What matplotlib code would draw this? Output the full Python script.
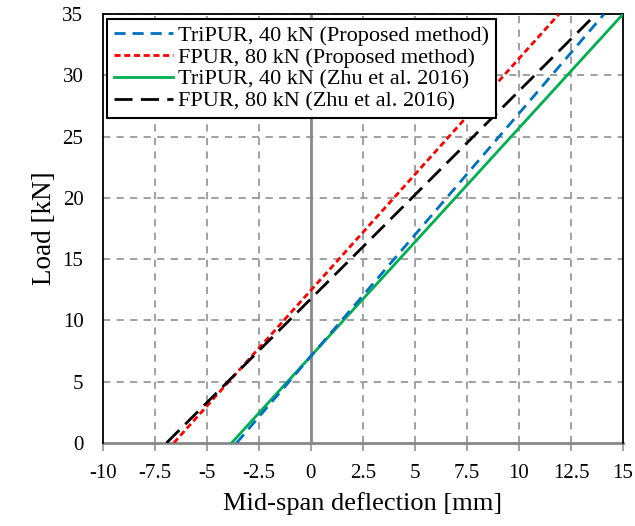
import numpy as np
import matplotlib.pyplot as plt

# Load-deflection lines (mid-span deflection in mm, load in kN)
tripur_prop_x = [-3.57, 14.09]
tripur_prop_y = [0, 35]
fpur_prop_x = [-6.59, 11.92]
fpur_prop_y = [0, 35]
tripur_zhu_x = [-3.81, 15.0]
tripur_zhu_y = [0, 35]
fpur_zhu_x = [-6.94, 13.70]
fpur_zhu_y = [0, 35]

x_ticks = [-10, -7.5, -5, -2.5, 0, 2.5, 5, 7.5, 10, 12.5, 15]
x_tick_labels = ["-10", "-7.5", "-5", "-2.5", "0", "2.5", "5", "7.5", "10", "12.5", "15"]
y_ticks = [0, 5, 10, 15, 20, 25, 30, 35]

plt.rcParams["font.family"] = ["Liberation Serif", "DejaVu Serif"]

fig = plt.figure(figsize=(6.35, 5.26), dpi=100)
ax = fig.add_axes([0.162, 0.158, 0.819, 0.815])

grid_c = "#999999"
# dashed grid
for xv in x_ticks[1:-1]:
    if xv != 0:
        ax.axvline(xv, color=grid_c, lw=1.3, ls=(0, (4, 3.5)), zorder=1)
for yv in y_ticks[1:]:
    ax.axhline(yv, color=grid_c, lw=1.3, ls=(0, (4, 3.5)), zorder=1)
# axes through the origin
ax.axvline(0, color="#888888", lw=2.0, zorder=2)
ax.axhline(0, color="#888888", lw=2.0, zorder=2, clip_on=False)

ax.plot(tripur_prop_x, tripur_prop_y, color="#0070C0", lw=2.0, ls=(0, (4, 2.5)),
        label="TriPUR, 40 kN (Proposed method)", zorder=4)
ax.plot(fpur_prop_x, fpur_prop_y, color="#FF0000", lw=2.0, ls=(0, (2.2, 1.3)),
        label="FPUR, 80 kN (Proposed method)", zorder=4)
ax.plot(tripur_zhu_x, tripur_zhu_y, color="#00B050", lw=2.0, ls="-",
        label="TriPUR, 40 kN (Zhu et al. 2016)", zorder=3)
ax.plot(fpur_zhu_x, fpur_zhu_y, color="black", lw=2.0, ls=(0, (6.5, 3)),
        label="FPUR, 80 kN (Zhu et al. 2016)", zorder=4)

ax.set_xlim(-10, 15)
ax.set_ylim(0, 35)
ax.set_xticks(x_ticks)
ax.set_xticklabels(x_tick_labels)
ax.set_yticks(y_ticks)
ax.tick_params(axis="x", direction="out", length=6, width=1.3, color=grid_c,
               labelsize=15, pad=9)
ax.tick_params(axis="y", length=0, labelsize=15, pad=14)

for side in ["left", "right", "top"]:
    ax.spines[side].set_color("black")
    ax.spines[side].set_linewidth(1.3)
ax.spines["bottom"].set_visible(False)

ax.set_xlabel("Mid-span deflection [mm]", fontsize=19, labelpad=7)
ax.set_ylabel("Load [kN]", fontsize=19.5, labelpad=4)

leg = ax.legend(loc="upper left", fontsize=16, frameon=True, fancybox=False,
                edgecolor="black", framealpha=1, handlelength=2.65,
                handletextpad=0.25, labelspacing=0.06, borderpad=0.3,
                borderaxespad=0.2)
leg.get_frame().set_linewidth(1.5)

fig.savefig("out.png", dpi=100)
